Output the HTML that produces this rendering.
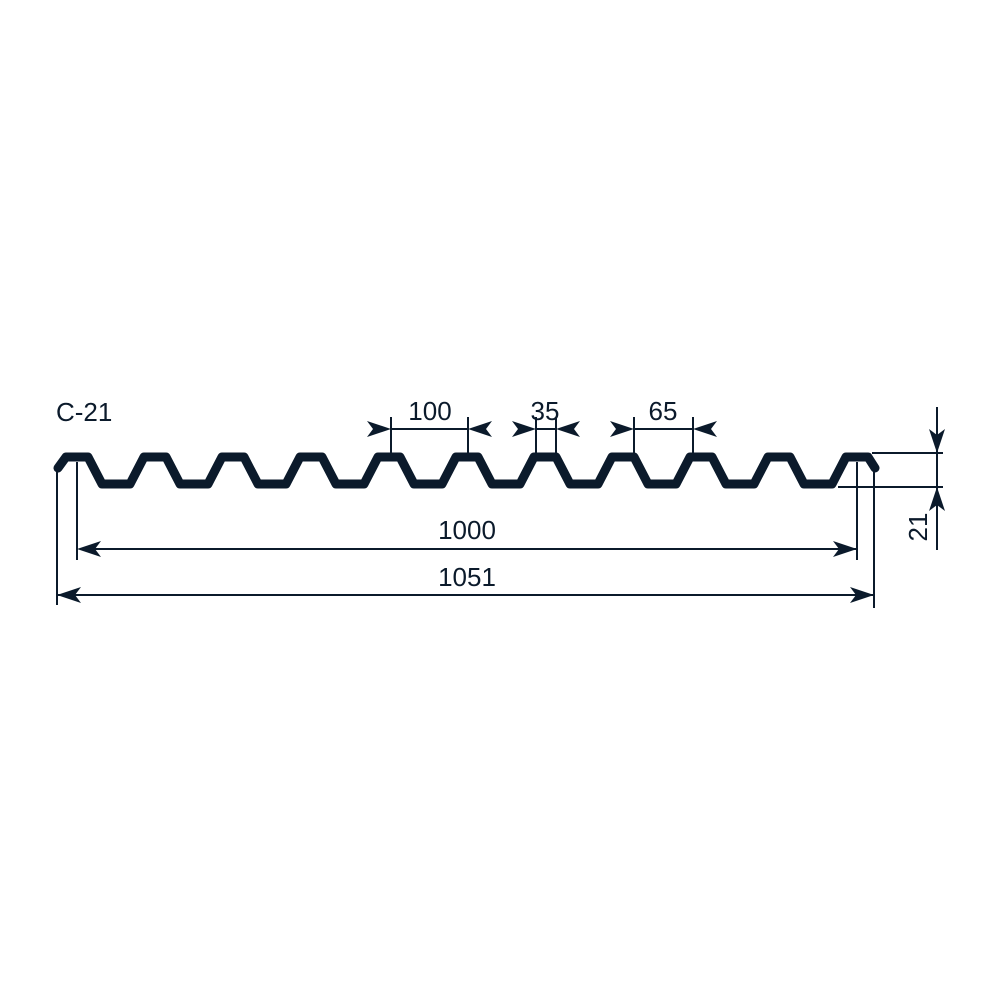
<!DOCTYPE html>
<html><head><style>html,body{margin:0;padding:0;background:#fff}svg{display:block}</style></head>
<body>
<svg width="1000" height="1000" viewBox="0 0 1000 1000" xmlns="http://www.w3.org/2000/svg">
<g fill="none" stroke="#0b1a2b">
<polyline stroke-width="9" stroke-linejoin="round" stroke-linecap="round" points="58,468 66,457 88,457 102,484 130,484 144,457 166,457 180,484 208,484 222,457 244,457 258,484 286,484 300,457 322,457 336,484 364,484 378,457 400,457 414,484 442,484 456,457 478,457 492,484 520,484 534,457 556,457 570,484 598,484 612,457 634,457 648,484 676,484 690,457 712,457 726,484 754,484 768,457 790,457 804,484 832,484 846,457 868,457 875,468"/>
<g stroke-width="2">
<line x1="57" y1="470" x2="57" y2="605"/>
<line x1="77" y1="462" x2="77" y2="560"/>
<line x1="857" y1="462" x2="857" y2="560"/>
<line x1="874" y1="470" x2="874" y2="608"/>
<line x1="80" y1="549" x2="856" y2="549"/>
<line x1="58" y1="595" x2="873" y2="595"/>
<line x1="391" y1="417" x2="391" y2="455"/>
<line x1="468" y1="417" x2="468" y2="455"/>
<line x1="391" y1="429" x2="468" y2="429"/>
<line x1="536" y1="417" x2="536" y2="455"/>
<line x1="556" y1="417" x2="556" y2="455"/>
<line x1="536" y1="429" x2="556" y2="429"/>
<line x1="634" y1="417" x2="634" y2="455"/>
<line x1="693" y1="417" x2="693" y2="455"/>
<line x1="634" y1="429" x2="693" y2="429"/>
<line x1="937" y1="407" x2="937" y2="550"/>
<line x1="872" y1="453" x2="943" y2="453"/>
<line x1="838" y1="487" x2="943" y2="487"/>
</g>
</g>
<g fill="#0b1a2b">
<path d="M77,549 L101,541 L95,549 L101,557 Z"/>
<path d="M857,549 L833,541 L839,549 L833,557 Z"/>
<path d="M57,595 L81,587 L75,595 L81,603 Z"/>
<path d="M874,595 L850,587 L856,595 L850,603 Z"/>
<path d="M391,429 L367,421 L373,429 L367,437 Z"/>
<path d="M468,429 L492,421 L486,429 L492,437 Z"/>
<path d="M536,429 L512,421 L518,429 L512,437 Z"/>
<path d="M556,429 L580,421 L574,429 L580,437 Z"/>
<path d="M634,429 L610,421 L616,429 L610,437 Z"/>
<path d="M693,429 L717,421 L711,429 L717,437 Z"/>
<path d="M937,453 L929,429 L937,435 L945,429 Z"/>
<path d="M937,487 L929,511 L937,505 L945,511 Z"/>
</g>
<g font-family="Liberation Sans, sans-serif" fill="#0b1a2b" font-size="26">
<text x="56" y="421">C-21</text>
<text x="430" y="420" text-anchor="middle">100</text>
<text x="545" y="420" text-anchor="middle">35</text>
<text x="663" y="420" text-anchor="middle">65</text>
<text x="467" y="539" text-anchor="middle">1000</text>
<text x="467" y="586" text-anchor="middle">1051</text>
<text x="0" y="0" text-anchor="middle" transform="translate(927,527) rotate(-90)">21</text>
</g>
</svg>
</body></html>
